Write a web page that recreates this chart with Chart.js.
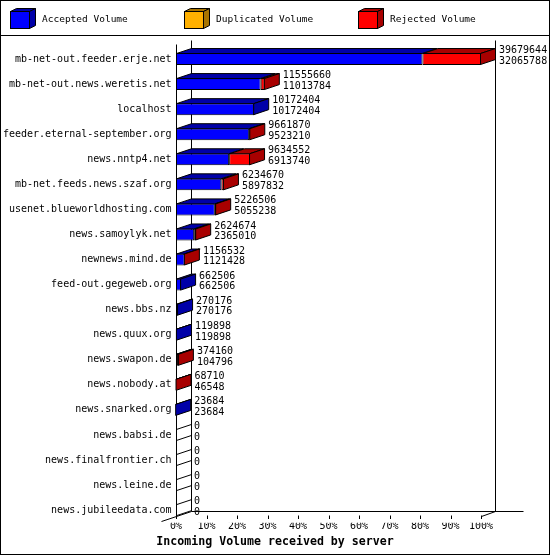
<!DOCTYPE html>
<html><head><meta charset="utf-8">
<script src="https://cdn.jsdelivr.net/npm/chart.js@4.4.1/dist/chart.umd.min.js"></script>
<style>html,body{margin:0;padding:0;background:#fff}#wrap{width:550px;height:555px}</style>
</head><body><div id="wrap"><canvas id="c" width="550" height="555"></canvas></div>
<script>
const servers = [
  'mb-net-out.feeder.erje.net','mb-net-out.news.weretis.net','localhost',
  'feeder.eternal-september.org','news.nntp4.net','mb-net.feeds.news.szaf.org',
  'usenet.blueworldhosting.com','news.samoylyk.net','newnews.mind.de',
  'feed-out.gegeweb.org','news.bbs.nz','news.quux.org','news.swapon.de',
  'news.nobody.at','news.snarked.org','news.babsi.de','news.finalfrontier.ch',
  'news.leine.de','news.jubileedata.com'
];
const totalVolume = [39679644,11555660,10172404,9661870,9634552,6234670,5226506,2624674,1156532,662506,270176,119898,374160,68710,23684,0,0,0,0];
const acceptedVolume = [32065788,11013784,10172404,9523210,6913740,5897832,5055238,2365010,1121428,662506,270176,119898,104796,46548,23684,0,0,0,0];
const duplicatedVolume = [0,0,0,0,0,0,0,0,0,0,0,0,0,0,0,0,0,0,0];
const rejectedVolume = [7613856,541876,0,138660,2720812,336838,171268,259664,35104,0,0,0,269364,22162,0,0,0,0,0];
const tickLabels = ['0%','10%','20%','30%','40%','50%','60%','70%','80%','90%','100%'];
const titleText = 'Incoming Volume received by server';

const maxTotal = Math.max(...totalVolume);
const pct = arr => arr.map(v => v / maxTotal * 100);
const FONT = '"DejaVu Sans Mono", monospace';
const DX = 15, DY = 5;
const darkColors = ['#0000a8', '#a87400', '#a80000'];

function line(ctx, x1, y1, x2, y2) {
  ctx.beginPath(); ctx.moveTo(x1, y1); ctx.lineTo(x2, y2); ctx.stroke();
}
function poly(ctx, pts, fill) {
  ctx.beginPath(); ctx.moveTo(pts[0][0], pts[0][1]);
  for (let k = 1; k < pts.length; k++) ctx.lineTo(pts[k][0], pts[k][1]);
  ctx.closePath();
  if (fill) { ctx.fillStyle = fill; ctx.fill(); }
  ctx.stroke();
}
const S = v => Math.round(v) + 0.5;

const threeD = {
  id: 'threeD',
  beforeDraw(chart) {
    const ctx = chart.ctx;
    ctx.save(); ctx.fillStyle = '#fff'; ctx.fillRect(0, 0, chart.width, chart.height); ctx.restore();
  },
  beforeDatasetsDraw(chart) {
    const ctx = chart.ctx, xs = chart.scales.x, ca = chart.chartArea;
    const x0 = S(xs.getPixelForValue(0)), x100 = S(xs.getPixelForValue(100));
    const floorF = S(ca.bottom - 6.6), floorB = floorF - DY;
    ctx.save(); ctx.strokeStyle = '#000'; ctx.lineWidth = 1;
    line(ctx, x0, S(ca.top - 2.5), x0, floorF);
    line(ctx, x0 + DX, S(ca.top - 6.5), x0 + DX, floorB);
    line(ctx, x100 + DX - 1, S(ca.top - 6.5), x100 + DX - 1, floorB);
    line(ctx, x0 + DX, floorB, x100 + DX + 27, floorB);
    line(ctx, x0 - 15, floorF + 5, x0 + DX, floorB);
    line(ctx, x100, floorF, x100 + DX - 1, floorB);
    xs.ticks.forEach(t => {
      const px = S(xs.getPixelForValue(t.value));
      line(ctx, px, floorF - 1, px, floorF + 2.5);
    });
    ctx.restore();
  },
  afterDatasetsDraw(chart) {
    const ctx = chart.ctx, xs = chart.scales.x;
    const x0 = xs.getPixelForValue(0);
    const n = chart.data.labels.length;
    ctx.save(); ctx.strokeStyle = '#000'; ctx.lineWidth = 1;
    for (let j = 0; j < n; j++) {
      let last = null, lastDs = -1, cy = 0, h = 12;
      chart.data.datasets.forEach((ds, i) => {
        const el = chart.getDatasetMeta(i).data[j];
        cy = el.y; h = el.height;
        const w = el.x - el.base;
        if (w > 0.01) {
          const top = el.y - el.height / 2 + 0.5;
          const l = el.base + 0.5, r = el.x - 0.5;
          poly(ctx, [[l, top], [l + DX, top - DY], [r + DX, top - DY], [r, top]], darkColors[i]);
          last = el; lastDs = i;
        }
      });
      const top = cy - h / 2 + 0.5, bot = cy + h / 2 - 0.5;
      let endX;
      if (last) {
        const r = last.x - 0.5;
        poly(ctx, [[r, top], [r + DX, top - DY], [r + DX, bot - DY], [r, bot]], darkColors[lastDs]);
        endX = last.x;
      } else {
        const l = S(x0);
        line(ctx, l, top, l + DX, top - DY);
        line(ctx, l, bot, l + DX, bot - DY);
        endX = x0;
      }
      ctx.fillStyle = '#000';
      ctx.font = '10px ' + FONT;
      ctx.textBaseline = 'middle'; ctx.textAlign = 'left';
      ctx.fillText(String(totalVolume[j]), endX + DX + 3, cy - 8.5);
      ctx.fillText(String(acceptedVolume[j]), endX + DX + 3, cy + 2.2);
    }
    ctx.restore();
  },
  afterDraw(chart) {
    const ctx = chart.ctx;
    ctx.save(); ctx.strokeStyle = '#000'; ctx.lineWidth = 1;
    const lx = [10, 184, 358];
    chart.data.datasets.forEach((ds, i) => {
      const x = lx[i] + 0.5, y = 11.5, w = 19, hh = 17, d = 6, e = 3;
      poly(ctx, [[x, y], [x + d, y - e], [x + w + d, y - e], [x + w, y]], darkColors[i]);
      poly(ctx, [[x + w, y], [x + w + d, y - e], [x + w + d, y + hh - e], [x + w, y + hh]], darkColors[i]);
      ctx.fillStyle = ds.backgroundColor; ctx.fillRect(x, y, w, hh); ctx.strokeRect(x, y, w, hh);
      ctx.fillStyle = '#000'; ctx.font = '9.5px ' + FONT;
      ctx.textBaseline = 'middle'; ctx.textAlign = 'left';
      ctx.fillText(ds.label, lx[i] + 32, 20);
    });
    ctx.strokeRect(0.5, 0.5, chart.width - 1, chart.height - 1);
    line(ctx, 0, 35.5, chart.width, 35.5);
    ctx.restore();
  }
};

const axisCommon = { grid: { display: false, drawTicks: false }, border: { display: false } };

new Chart(document.getElementById('c'), {
  type: 'bar',
  data: {
    labels: servers,
    datasets: [
      { label: 'Accepted Volume', data: pct(acceptedVolume), backgroundColor: '#0000ff', xAxisID: 'x', yAxisID: 'y' },
      { label: 'Duplicated Volume', data: pct(duplicatedVolume), backgroundColor: '#ffb000', xAxisID: 'x', yAxisID: 'y' },
      { label: 'Rejected Volume', data: pct(rejectedVolume), backgroundColor: '#ff0000', xAxisID: 'x', yAxisID: 'y' }
    ]
  },
  options: {
    indexAxis: 'y', responsive: false, animation: false, devicePixelRatio: 1,
    layout: { padding: { top: 46.5, left: 0, right: 0, bottom: 0 } },
    datasets: { bar: { barThickness: 12, borderWidth: 1, borderColor: '#000', borderSkipped: false, inflateAmount: 0 } },
    scales: {
      x: Object.assign({}, axisCommon, {
        stacked: true, min: 0, max: 100,
        ticks: { stepSize: 10, autoSkip: false, maxRotation: 0, padding: -2, color: '#000',
                 font: { family: FONT, size: 10 }, callback: (v, i) => tickLabels[i] },
        afterFit: s => { s.height = 12.4; }
      }),
      y: Object.assign({}, axisCommon, {
        stacked: true,
        ticks: { autoSkip: false, padding: 4.5, color: '#000', font: { family: FONT, size: 10 } },
        afterFit: s => { s.width = 176; }
      }),
      r: Object.assign({}, axisCommon, {
        type: 'linear', axis: 'y', position: 'right', display: true,
        ticks: { display: false },
        afterFit: s => { s.width = 69; }
      })
    },
    plugins: {
      legend: { display: false }, tooltip: { enabled: false },
      title: { display: true, position: 'bottom', text: titleText, color: '#000',
               font: { family: FONT, size: 11.6, weight: 'bold' }, padding: { top: 0, bottom: 6 } }
    }
  },
  plugins: [threeD]
});
</script>
</body></html>
